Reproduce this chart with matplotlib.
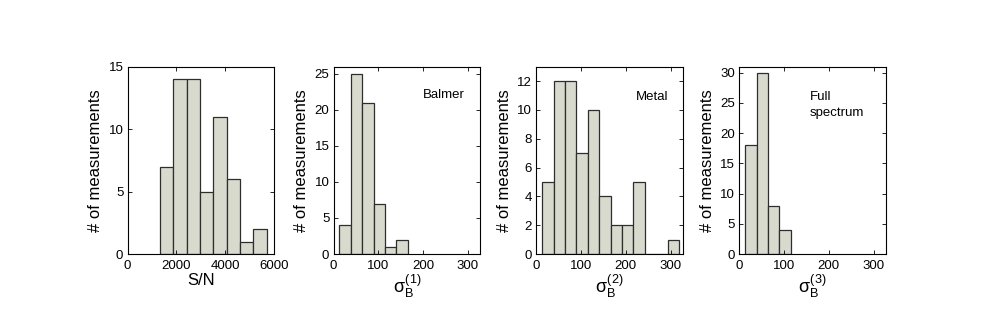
import matplotlib
matplotlib.use("Agg")
import matplotlib.pyplot as plt
import numpy as np

# S/N histogram
sn_edges = [1330, 1875, 2420, 2965, 3510, 4055, 4600, 5145, 5690]
sn_counts = [7, 14, 14, 5, 11, 6, 1, 2]

# sigma_B histograms (shared bins)
sigma_edges = [13, 38.5, 64, 89.5, 115, 140.5, 166, 191.5, 217, 242.5, 268, 293.5, 319]
balmer_counts = [4, 25, 21, 7, 1, 2]
metal_counts = [5, 12, 12, 7, 10, 4, 2, 2, 5, 0, 0, 1]
full_counts = [18, 30, 8, 4]

sn_ticks = [0, 2000, 4000, 6000]
sigma_ticks = [0, 100, 200, 300]

plt.rcParams['font.family'] = ['Liberation Sans', 'DejaVu Sans']
plt.rcParams['mathtext.fontset'] = 'custom'
plt.rcParams['mathtext.rm'] = 'Liberation Sans'
plt.rcParams['mathtext.it'] = 'Liberation Sans'
plt.rcParams['mathtext.sf'] = 'Liberation Sans'

BAR_FC = '#d8dace'
BAR_EC = '#2e2e2e'

fig = plt.figure(figsize=(9.81, 3.16), dpi=100)

lefts = [0.130, 0.340, 0.5467, 0.7536]
bottom, width, height = 0.1962, 0.1496, 0.5928


def histo(ax, edges, counts, xlim, ylim, xticks, yticks, xlabel, xsize=12):
    edges = np.asarray(edges, dtype=float)
    n = len(counts)
    ax.bar(edges[:n], counts, width=np.diff(edges)[:n], align='edge',
           facecolor=BAR_FC, edgecolor=BAR_EC, linewidth=0.9)
    ax.set_xlim(*xlim)
    ax.set_ylim(*ylim)
    ax.set_xticks(xticks)
    ax.set_yticks(yticks)
    ax.tick_params(axis='both', direction='in', top=True, right=True,
                   labelsize=9.5, length=3, width=0.6)
    ax.tick_params(axis='x', pad=4)
    ax.tick_params(axis='y', pad=3)
    for s in ax.spines.values():
        s.set_linewidth(0.8)
    ax.set_xlabel(xlabel, fontsize=xsize, labelpad=1)
    ax.set_ylabel('# of measurements', fontsize=12, labelpad=4)


ax1 = fig.add_axes([lefts[0], bottom, width, height])
histo(ax1, sn_edges, sn_counts, (0, 6000), (0, 15), sn_ticks,
      [0, 5, 10, 15], 'S/N')

ax2 = fig.add_axes([lefts[1], bottom, width, height])
histo(ax2, sigma_edges, balmer_counts, (0, 328), (0, 26), sigma_ticks,
      [0, 5, 10, 15, 20, 25], r'$\sigma_{\mathrm{B}}^{(1)}$', xsize=13)
ax2.text(200, 22, 'Balmer', fontsize=9.5, ha='left', va='center')

ax3 = fig.add_axes([lefts[2], bottom, width, height])
histo(ax3, sigma_edges, metal_counts, (0, 328), (0, 13), sigma_ticks,
      [0, 2, 4, 6, 8, 10, 12], r'$\sigma_{\mathrm{B}}^{(2)}$', xsize=13)
ax3.text(222, 10.9, 'Metal', fontsize=9.5, ha='left', va='center')

ax4 = fig.add_axes([lefts[3], bottom, width, height])
histo(ax4, sigma_edges, full_counts, (0, 328), (0, 31), sigma_ticks,
      [0, 5, 10, 15, 20, 25, 30], r'$\sigma_{\mathrm{B}}^{(3)}$', xsize=13)
ax4.text(158, 24.6, 'Full\nspectrum', fontsize=9.5, ha='left', va='center',
         linespacing=1.45)

fig.savefig('out.png', dpi=100)
